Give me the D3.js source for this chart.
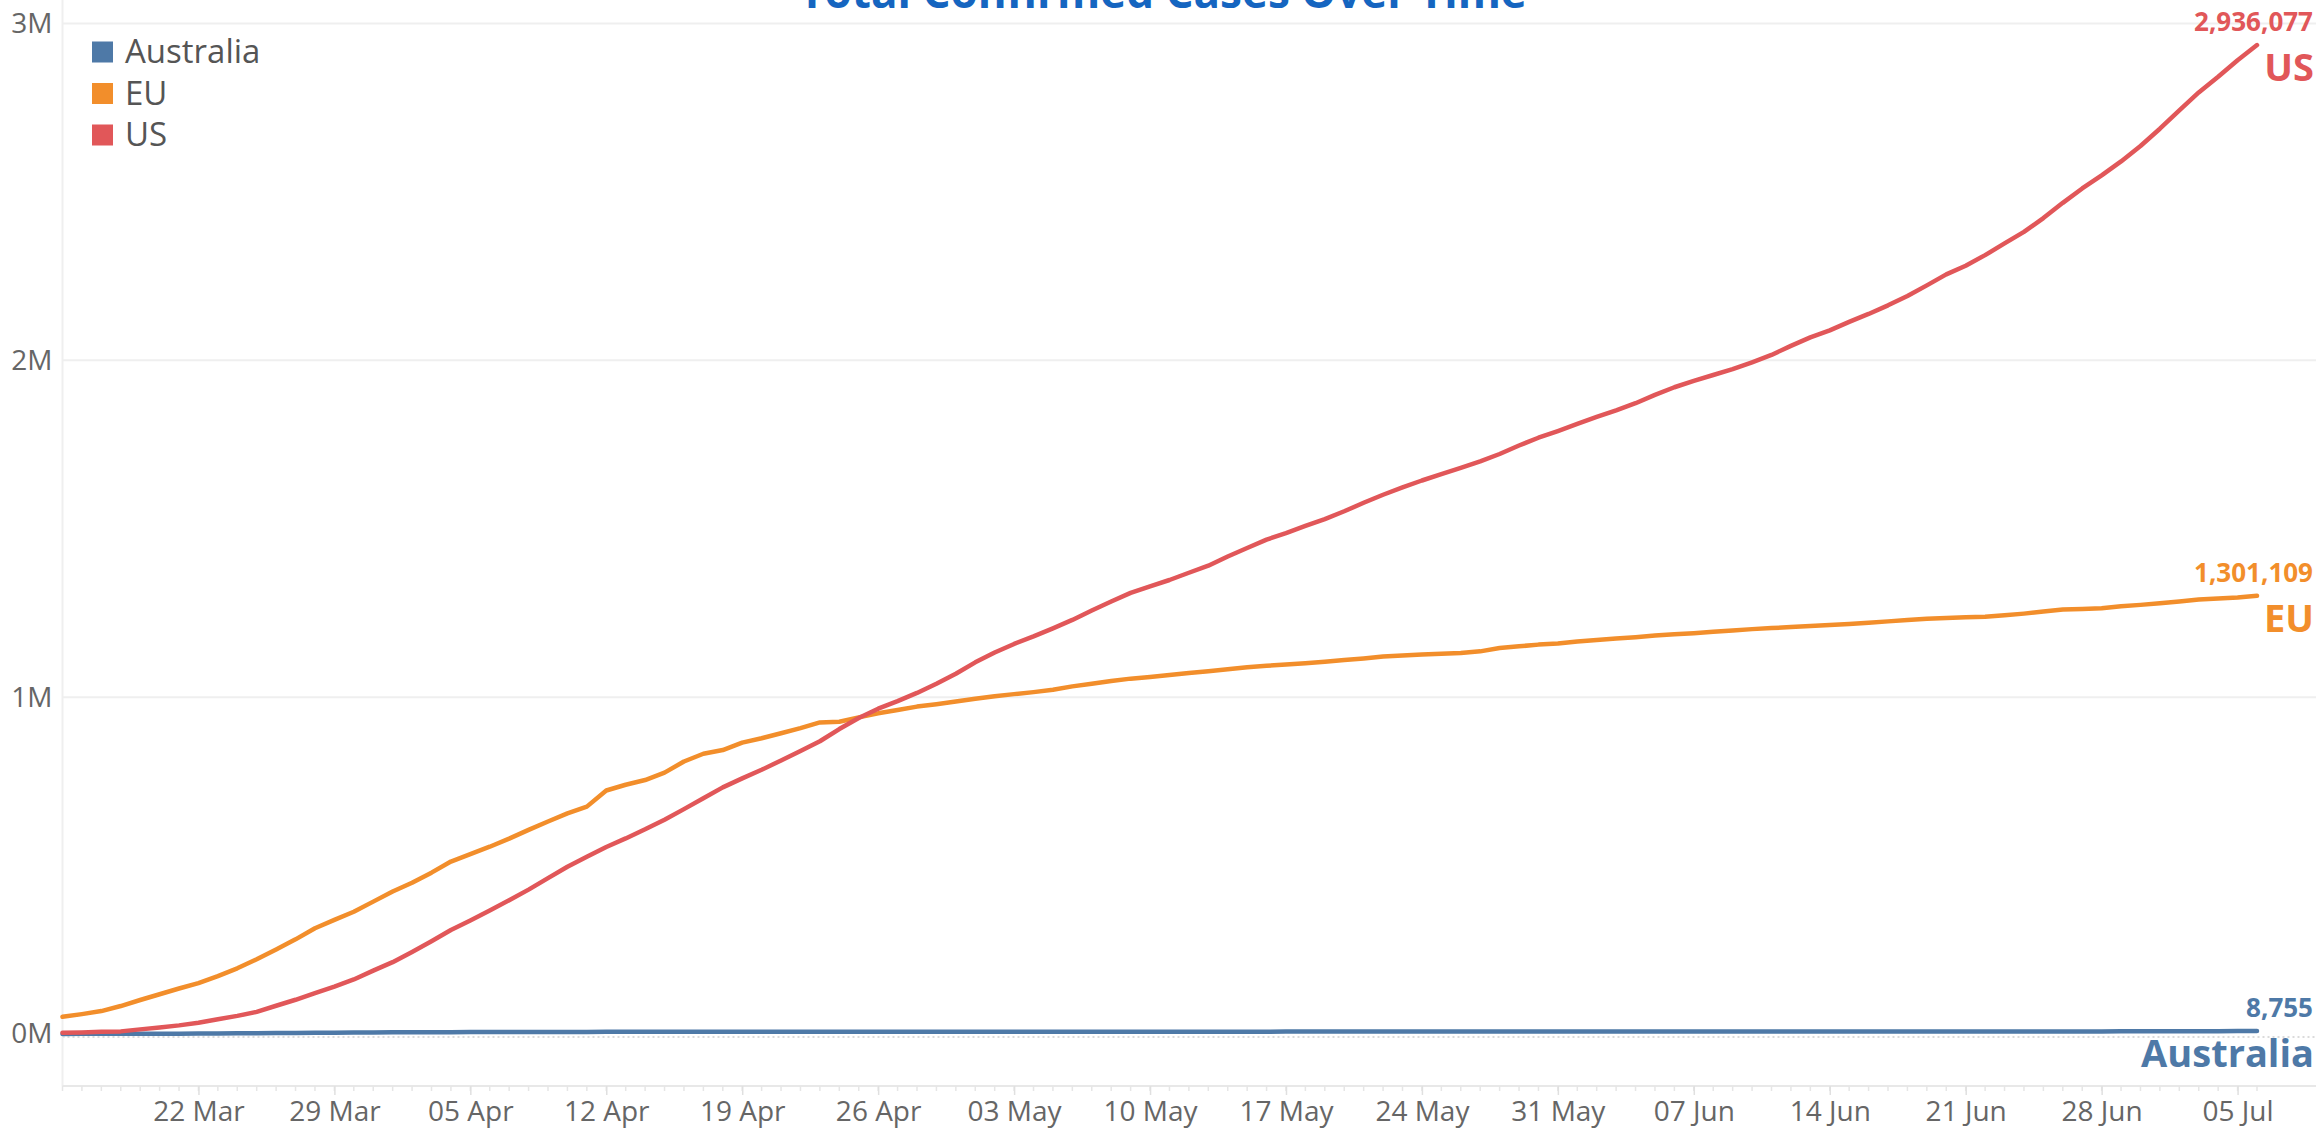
<!DOCTYPE html>
<html>
<head>
<meta charset="utf-8">
<script src="https://cdn.jsdelivr.net/npm/d3@7"></script>
<style>
  html, body { margin: 0; padding: 0; background: #fff; }
  svg { display: block; font-family: "Open Sans", sans-serif; }
</style>
</head>
<body>
<div id="chart"></div>
<script>
// Daily series, 15 Mar -> 06 Jul 2020 (one value per day)
const startDate = new Date(2020, 2, 15);
const endDate = new Date(2020, 6, 6);

const seriesNames = ["Australia", "EU", "US"];
const seriesColors = ["#4e79a7", "#f28e2b", "#e15759"];

const australia = [
  297, 377, 452, 568, 681, 791, 1071, 1549, 1682, 2044, 2364, 2810, 3143, 3640, 3984, 4361, 4559,
  4862, 5116, 5330, 5550, 5687, 5797, 5895, 6010, 6108, 6215, 6303, 6315, 6351, 6415, 6440,
  6462, 6522, 6565, 6606, 6619, 6649, 6654, 6673, 6677, 6694, 6714, 6721, 6744, 6752, 6766,
  6778, 6799, 6822, 6847, 6849, 6875, 6894, 6918, 6939, 6948, 6970, 6980, 6989, 7019, 7035, 7044,
  7054, 7068, 7072, 7081, 7095, 7099, 7114, 7114, 7126, 7133, 7139, 7150, 7165, 7184, 7192,
  7204, 7221, 7229, 7240, 7247, 7259, 7265, 7267, 7276, 7285, 7289, 7294, 7320, 7335, 7347,
  7370, 7391, 7409, 7411, 7461, 7474, 7492, 7521, 7558, 7595, 7641, 7686, 7745, 7834, 7920,
  8001, 8066, 8255, 8449, 8586, 8755
];

const eu = [
  51000, 59000, 68000, 83000, 101000, 118000, 135000, 151000, 172000, 195000, 222000, 251000,
  281000, 314000, 339000, 363000, 393000,
  423000, 449000, 479000, 512000, 534000, 556000, 580000, 606000, 631000, 655000, 675000,
  723000, 740000, 754000, 776000, 809000, 832000, 843000, 865000, 878000, 893000, 908000,
  925000, 927000, 940000, 952000, 962000, 972000, 979000, 987000, 995000,
  1003000, 1009000, 1015000, 1022000, 1032000, 1040000, 1048000, 1055000, 1060000, 1066000,
  1072000, 1077000, 1083000, 1089000, 1093000, 1097000, 1101000, 1105000, 1110000, 1115000,
  1121000, 1124000, 1127000, 1129000, 1131000, 1136000, 1146000, 1151000, 1156000, 1159000,
  1165000, 1170000, 1174000, 1178000, 1183000, 1187000, 1190000, 1194000, 1198000, 1202000,
  1205000, 1208000, 1211000, 1214000, 1217000, 1221000, 1225000, 1229000, 1233000, 1235000,
  1237000, 1239000, 1243000, 1248000, 1254000, 1260000, 1262000, 1264000, 1270000, 1274000,
  1279000, 1284000, 1290000, 1293000, 1296000, 1301109
];

const us = [
  3499, 4632, 6421, 7783, 13747, 19273, 25600, 33276, 43847, 53740, 65778, 83836, 101657,
  121465, 140909, 161831, 188172,
  213242, 243622, 275367, 308650, 336802, 366317, 397121, 428654, 462780, 496535, 526396,
  555313, 580619, 607670, 636350, 667592, 699706, 732197, 758809, 784326, 811865, 840351,
  869170, 905358, 938154, 965785, 988197, 1012582, 1039909, 1069424,
  1103461, 1132539, 1158040, 1180375, 1204351, 1229331, 1257023, 1283929, 1309550, 1329260,
  1347881, 1369376, 1390406, 1417774, 1442824, 1467820, 1486757, 1508308, 1528568, 1551853,
  1577147, 1600937, 1622612, 1643246, 1662302, 1680913, 1699933, 1721926, 1747087, 1770165, 1790191,
  1811277, 1831821, 1851520, 1872660, 1897380, 1920061, 1938823, 1956421, 1973797, 1994283,
  2016027, 2043000, 2068000, 2089000, 2114026, 2137731, 2163290, 2191052, 2222579, 2255119,
  2280969, 2312303, 2347022, 2381369, 2422312, 2467554, 2510323, 2549069, 2590582, 2636414,
  2687588, 2742049, 2795361, 2841906, 2891124, 2936077
];

const yTicks = [0, 1000000, 2000000, 3000000];
const xTickLabels = ["22 Mar", "29 Mar", "05 Apr", "12 Apr", "19 Apr", "26 Apr", "03 May", "10 May",
  "17 May", "24 May", "31 May", "07 Jun", "14 Jun", "21 Jun", "28 Jun", "05 Jul"];

// Chart settings
const config = {
  width: 2318,
  height: 1128,
  left: 62.5,
  right: 2316,
  lineEnd: 2257,
  bottom: 1086,
  zeroY: 1034,
  topY: 23.5,
  lineWidth: 4.5,
  gridColor: "#efefef",
  textColor: "#666",
};

const dates = d3.timeDay.range(startDate, d3.timeDay.offset(endDate, 1));
const values = [australia, eu, us];
const parseTick = d3.timeParse("%d %b %Y");
const tickDates = xTickLabels.map(t => parseTick(t + " 2020"));

const svg = d3.select("#chart").append("svg")
  .attr("width", config.width)
  .attr("height", config.height);

const xScale = d3.scaleTime().domain([startDate, endDate]).range([config.left, config.lineEnd]);
const yScale = d3.scaleLinear().domain([0, 3000000]).range([config.zeroY, config.topY]);

// Gridlines
svg.append("g").selectAll("line")
  .data(yTicks.filter(d => d > 0))
  .join("line")
  .attr("x1", config.left).attr("x2", config.right)
  .attr("y1", d => yScale(d)).attr("y2", d => yScale(d))
  .attr("stroke", config.gridColor).attr("stroke-width", 2);

// zero line (dotted)
svg.append("line")
  .attr("x1", config.left).attr("x2", config.right)
  .attr("y1", yScale(0) + 3).attr("y2", yScale(0) + 3)
  .attr("stroke", "#cfcfcf").attr("stroke-width", 1.5)
  .attr("stroke-dasharray", "2,3");

// Y axis
const yAxis = svg.append("g")
  .attr("transform", `translate(${config.left},0)`)
  .call(d3.axisLeft(yScale).tickValues(yTicks).tickSize(0).tickPadding(10)
    .tickFormat(d => (d / 1000000) + "M"));
yAxis.select(".domain").remove();
yAxis.selectAll("text")
  .attr("fill", config.textColor)
  .style("font-size", "28px")
  .style("font-family", "Open Sans");
svg.append("line")
  .attr("x1", config.left).attr("x2", config.left)
  .attr("y1", 0).attr("y2", config.bottom)
  .attr("stroke", config.gridColor).attr("stroke-width", 2);

// X axis: minor daily ticks + weekly labels
svg.append("line")
  .attr("x1", config.left).attr("x2", config.right)
  .attr("y1", config.bottom).attr("y2", config.bottom)
  .attr("stroke", "#e8e8e8").attr("stroke-width", 2);

svg.append("g").selectAll("line")
  .data(dates)
  .join("line")
  .attr("x1", d => xScale(d)).attr("x2", d => xScale(d))
  .attr("y1", config.bottom).attr("y2", config.bottom + 5)
  .attr("stroke", "#e6e6e6").attr("stroke-width", 1.5);

const xAxis = svg.append("g")
  .attr("transform", `translate(0,${config.bottom})`)
  .call(d3.axisBottom(xScale).tickValues(tickDates).tickSize(9).tickPadding(6)
    .tickFormat((d, i) => xTickLabels[i]));
xAxis.select(".domain").remove();
xAxis.selectAll("line").attr("stroke", "#e0e0e0").attr("stroke-width", 1.5);
xAxis.selectAll("text")
  .attr("fill", config.textColor)
  .style("font-size", "28px")
  .style("font-family", "Open Sans");

// Lines
const line = d3.line()
  .x((d, i) => xScale(dates[i]))
  .y(d => yScale(d));

svg.append("g").selectAll("path")
  .data(values)
  .join("path")
  .attr("fill", "none")
  .attr("stroke", (d, i) => seriesColors[i])
  .attr("stroke-width", config.lineWidth)
  .attr("stroke-linejoin", "round")
  .attr("stroke-linecap", "round")
  .attr("d", line);

// End labels (value + series name)
const fmt = d3.format(",");
values.forEach((vals, i) => {
  const last = vals[vals.length - 1];
  const yEnd = yScale(last);
  svg.append("text")
    .attr("x", config.right - 3)
    .attr("y", yEnd - 14)
    .attr("text-anchor", "end")
    .attr("fill", seriesColors[i])
    .style("font-size", "26px")
    .style("font-weight", "bold")
    .text(fmt(last));
  svg.append("text")
    .attr("x", config.right - 2)
    .attr("y", yEnd + 36)
    .attr("text-anchor", "end")
    .attr("fill", seriesColors[i])
    .style("font-size", "38px")
    .style("font-weight", "bold")
    .text(seriesNames[i]);
});

// Legend
const legend = svg.append("g").attr("transform", "translate(92,0)");
seriesNames.forEach((name, i) => {
  const cy = 52 + i * 41.5;
  legend.append("rect")
    .attr("x", 0).attr("y", cy - 10.5)
    .attr("width", 21).attr("height", 21)
    .attr("fill", seriesColors[i]);
  legend.append("text")
    .attr("x", 33).attr("y", cy + 11)
    .attr("fill", "#555")
    .style("font-size", "33px")
    .text(name);
});

// Title (cut off by the top edge, as in the source)
svg.append("text")
  .attr("x", 1163)
  .attr("y", 8)
  .attr("text-anchor", "middle")
  .attr("fill", "#1565c0")
  .style("font-size", "44px")
  .style("font-weight", "bold")
  .text("Total Confirmed Cases Over Time");
</script>
</body>
</html>
